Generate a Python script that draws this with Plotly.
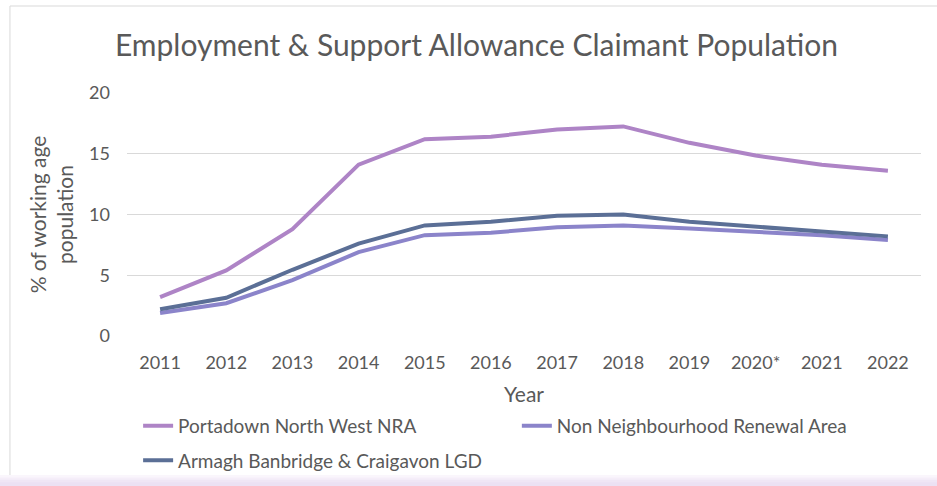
import plotly.graph_objects as go

years = ["2011", "2012", "2013", "2014", "2015", "2016", "2017", "2018", "2019", "2020*", "2021", "2022"]
portadown = [3.2, 5.4, 8.8, 14.1, 16.2, 16.4, 17.0, 17.25, 15.9, 14.85, 14.1, 13.6]
non_nra = [1.9, 2.7, 4.6, 6.9, 8.3, 8.5, 8.95, 9.1, 8.85, 8.55, 8.3, 7.9]
abc_lgd = [2.2, 3.15, 5.45, 7.6, 9.1, 9.4, 9.9, 10.0, 9.4, 9.0, 8.6, 8.2]

font = "Lato, 'Open Sans', sans-serif"
text_col = "#595959"

fig = go.Figure()
fig.add_trace(go.Scatter(x=years, y=portadown, mode="lines", name="Portadown North West NRA",
                         line=dict(color="#AE84C6", width=4), legend="legend", legendgroup="a"))
fig.add_trace(go.Scatter(x=years, y=non_nra, mode="lines", name="Non Neighbourhood Renewal Area",
                         line=dict(color="#8B84CA", width=4), legend="legend2"))
fig.add_trace(go.Scatter(x=years, y=abc_lgd, mode="lines", name="Armagh Banbridge & Craigavon LGD",
                         line=dict(color="#5B6F96", width=4), legend="legend", legendgroup="b"))

leg_style = dict(orientation="v", yref="container", y=0.163, yanchor="top", itemwidth=30,
                 font=dict(size=19, color=text_col), bgcolor="rgba(0,0,0,0)")

fig.update_layout(
    width=937, height=486,
    paper_bgcolor="white", plot_bgcolor="white",
    margin=dict(l=127, r=16, t=93, b=150),
    font=dict(family=font, color=text_col, size=18),
    title=dict(text="Employment & Support Allowance Claimant Population",
               x=0.5085, xanchor="center", y=0.907, yanchor="middle",
               font=dict(size=30, color=text_col)),
    showlegend=True,
    legend=dict(x=0.014, xanchor="left", tracegroupgap=7, **leg_style),
    legend2=dict(x=0.491, xanchor="left", **leg_style),
)
fig.update_xaxes(title=dict(text="Year", standoff=15, font=dict(size=21)), showgrid=False,
                 showline=False, ticks="", type="category", range=[-0.5, 11.5],
                 ticklabelstandoff=14, tickfont=dict(size=18), automargin=False)
fig.update_yaxes(title=dict(text="% of working age<br>population", standoff=9, font=dict(size=21)),
                 range=[0, 20], dtick=5, showgrid=True, gridcolor="#D9D9D9", gridwidth=1.3,
                 zeroline=False, showline=False, ticks="", ticklabelstandoff=16,
                 tickfont=dict(size=18), automargin=False)

# chart frame and bottom tint
fig.add_shape(type="rect", xref="paper", yref="paper", x0=-0.1474, x1=1.05, y0=-0.62, y1=1.358,
              line=dict(color="#D9D9D9", width=1), fillcolor="rgba(0,0,0,0)", layer="below")
for i, c in enumerate(["#FAF6FC", "#F5EEF9", "#F0E6F5", "#ECE1F3"]):
    fig.add_shape(type="rect", xref="paper", yref="paper", x0=-0.2, x1=1.1,
                  y0=-0.64, y1=-0.572 - 0.01 * i, line_width=0, fillcolor=c, layer="below")

fig.write_html("out.html", config={"displayModeBar": False},
               post_script="document.body.style.margin='0';")
